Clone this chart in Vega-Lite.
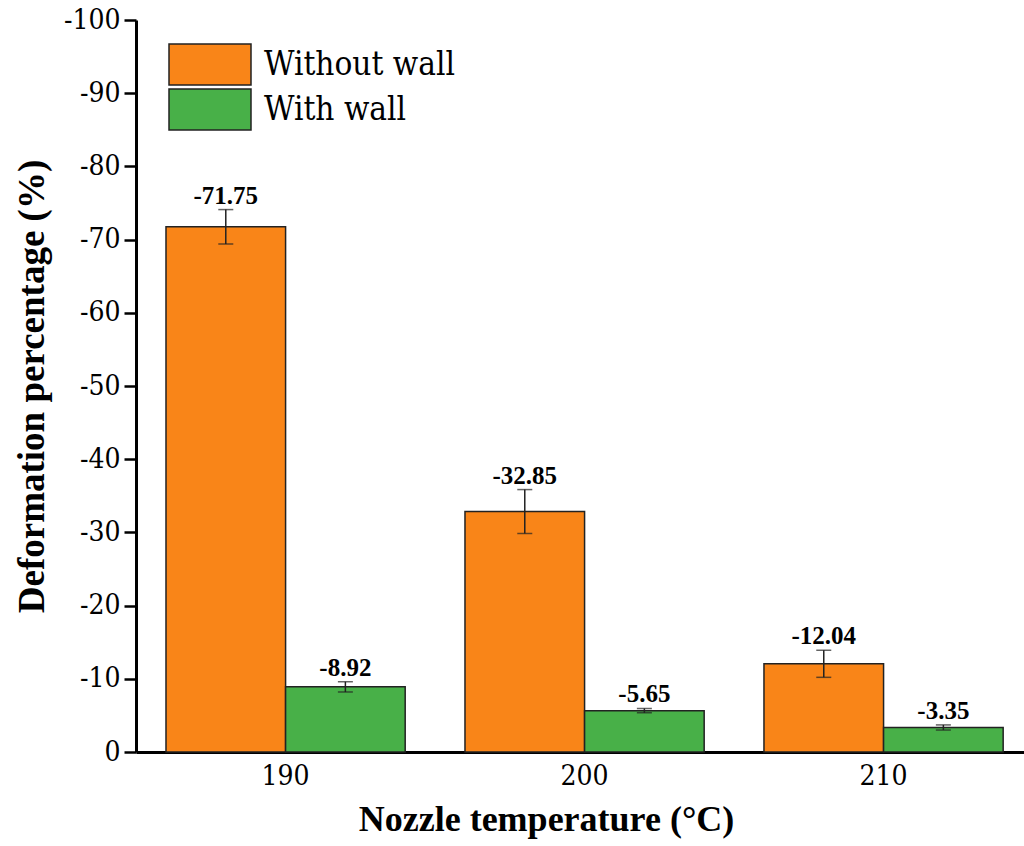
{
  "$schema": "https://vega.github.io/schema/vega-lite/v6.json",
  "width": 888,
  "height": 732,
  "autosize": {"type": "none"},
  "padding": {"left": 136, "top": 20, "right": 0, "bottom": 94},
  "background": "white",
  "config": {
    "view": {"stroke": null},
    "font": "Liberation Serif"
  },
  "data": {
    "values": [
      {"temp": "190", "group": "Without wall", "value": -71.75, "hi": -74.1, "lo": -69.4, "label": "-71.75"},
      {"temp": "190", "group": "With wall", "value": -8.92, "hi": -9.6, "lo": -8.2, "label": "-8.92"},
      {"temp": "200", "group": "Without wall", "value": -32.85, "hi": -35.85, "lo": -29.85, "label": "-32.85"},
      {"temp": "200", "group": "With wall", "value": -5.65, "hi": -5.95, "lo": -5.35, "label": "-5.65"},
      {"temp": "210", "group": "Without wall", "value": -12.04, "hi": -13.9, "lo": -10.2, "label": "-12.04"},
      {"temp": "210", "group": "With wall", "value": -3.35, "hi": -3.7, "lo": -3.0, "label": "-3.35"}
    ]
  },
  "encoding": {
    "x": {
      "field": "temp",
      "type": "nominal",
      "scale": {"paddingInner": 0.2, "paddingOuter": 0.085, "align": 0.59},
      "axis": {
        "title": "Nozzle temperature (°C)",
        "titleFont": "Liberation Serif",
        "titleFontSize": 36,
        "titleFontWeight": "bold",
        "titleColor": "black",
        "titleX": 410,
        "titlePadding": 12,
        "labelAngle": 0,
        "labelFont": "DejaVu Serif Condensed, DejaVu Serif",
        "labelFontSize": 28,
        "labelColor": "black",
        "labelPadding": 10,
        "ticks": false,
        "domainColor": "black",
        "domainWidth": 3
      }
    },
    "xOffset": {
      "field": "group",
      "type": "nominal",
      "sort": ["Without wall", "With wall"],
      "scale": {"paddingInner": 0, "paddingOuter": 0}
    }
  },
  "layer": [
    {
      "mark": {"type": "bar", "stroke": "#222222", "strokeWidth": 1.5},
      "encoding": {
        "y": {
          "field": "value",
          "type": "quantitative",
          "scale": {"domain": [-100, 0], "reverse": true, "nice": false},
          "axis": {
            "title": "Deformation percentage (%)",
            "titleFont": "Liberation Serif",
            "titleFontSize": 37,
            "titleFontWeight": "bold",
            "titleColor": "black",
            "titlePadding": 12,
            "values": [-100, -95, -90, -85, -80, -75, -70, -65, -60, -55, -50, -45, -40, -35, -30, -25, -20, -15, -10, -5, 0],
            "labelExpr": "datum.value % 10 == 0 ? toString(datum.value) : ''",
            "labelFont": "DejaVu Serif Condensed, DejaVu Serif",
            "labelFontSize": 28,
            "labelColor": "black",
            "labelPadding": 4,
            "tickSize": {"condition": {"test": "datum.value % 10 == 0", "value": 12}, "value": 6},
            "tickColor": "black",
            "tickWidth": 2.5,
            "domainColor": "black",
            "domainWidth": 3,
            "grid": false
          }
        },
        "color": {
          "field": "group",
          "type": "nominal",
          "scale": {"domain": ["Without wall", "With wall"], "range": ["#F98518", "#48B048"]},
          "legend": {
            "title": null,
            "orient": "none",
            "legendX": 52.5,
            "legendY": 23,
            "padding": 0,
            "symbolType": "M-2,-1H2V1H-2Z",
            "symbolSize": 1681,
            "symbolStrokeColor": "#222222",
            "symbolStrokeWidth": 1.5,
            "symbolOpacity": 1,
            "labelFont": "DejaVu Serif Condensed, DejaVu Serif",
            "labelFontSize": 33,
            "labelColor": "black",
            "labelOffset": 32.5,
            "rowPadding": -3,
            "labelLimit": 400
          }
        }
      }
    },
    {
      "mark": {"type": "rule", "color": "#222222", "strokeWidth": 1.5},
      "encoding": {
        "y": {"field": "hi", "type": "quantitative"},
        "y2": {"field": "lo"}
      }
    },
    {
      "mark": {"type": "tick", "color": "#222222", "thickness": 1.5, "size": 15},
      "encoding": {"y": {"field": "hi", "type": "quantitative"}}
    },
    {
      "mark": {"type": "tick", "color": "#222222", "thickness": 1.5, "size": 15},
      "encoding": {"y": {"field": "lo", "type": "quantitative"}}
    },
    {
      "mark": {"type": "text", "baseline": "alphabetic", "dy": -6, "font": "Liberation Serif", "fontSize": 25, "fontWeight": "bold", "color": "black"},
      "encoding": {
        "y": {"field": "hi", "type": "quantitative"},
        "text": {"field": "label", "type": "nominal"}
      }
    }
  ]
}
